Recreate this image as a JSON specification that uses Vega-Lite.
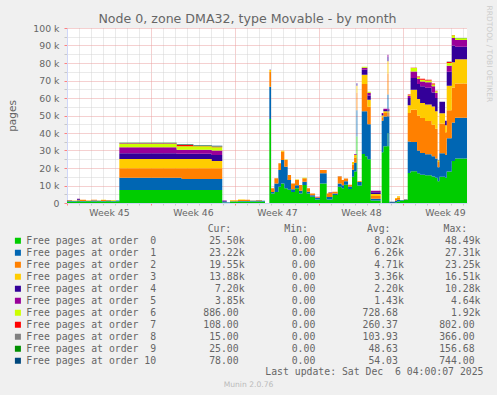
{
  "$schema": "https://vega.github.io/schema/vega-lite/v6.json",
  "autosize": {"type": "none"},
  "padding": {"left": 67, "top": 28, "right": 30, "bottom": 192},
  "width": 400,
  "height": 175,
  "background": "#f0f0f0",
  "config": {"view": {"fill": "white", "stroke": null}},
  "title": {"text": "Node 0, zone DMA32, type Movable - by month", "font": "DejaVu Sans", "fontSize": 12.6, "fontWeight": "normal", "color": "#666666", "anchor": "middle", "frame": "group", "dx": -19.5, "dy": 24.5, "offset": 4},
  "datasets": {
    "series": [
      {"t": 0.00, "o0": 800, "o1": 300, "o2": 400, "o3": 100, "o4": 100, "o5": 0, "o6": 0, "o7": 0, "o8": 0, "o9": 0, "o10": 0},
      {"t": 0.42, "o0": 900, "o1": 200, "o2": 200, "o3": 200, "o4": 0, "o5": 0, "o6": 0, "o7": 0, "o8": 0, "o9": 0, "o10": 0},
      {"t": 0.83, "o0": 1000, "o1": 500, "o2": 300, "o3": 0, "o4": 500, "o5": 200, "o6": 0, "o7": 0, "o8": 0, "o9": 0, "o10": 0},
      {"t": 1.08, "o0": 900, "o1": 300, "o2": 700, "o3": 0, "o4": 0, "o5": 0, "o6": 0, "o7": 0, "o8": 0, "o9": 0, "o10": 0},
      {"t": 1.58, "o0": 1000, "o1": 200, "o2": 300, "o3": 0, "o4": 0, "o5": 0, "o6": 0, "o7": 0, "o8": 0, "o9": 0, "o10": 0},
      {"t": 2.00, "o0": 900, "o1": 500, "o2": 500, "o3": 0, "o4": 0, "o5": 0, "o6": 0, "o7": 0, "o8": 0, "o9": 0, "o10": 0},
      {"t": 2.50, "o0": 1000, "o1": 300, "o2": 200, "o3": 0, "o4": 0, "o5": 0, "o6": 0, "o7": 0, "o8": 0, "o9": 0, "o10": 0},
      {"t": 2.83, "o0": 900, "o1": 200, "o2": 600, "o3": 200, "o4": 0, "o5": 0, "o6": 0, "o7": 0, "o8": 0, "o9": 0, "o10": 0},
      {"t": 3.25, "o0": 1000, "o1": 500, "o2": 200, "o3": 0, "o4": 0, "o5": 0, "o6": 0, "o7": 0, "o8": 0, "o9": 0, "o10": 0},
      {"t": 3.67, "o0": 900, "o1": 300, "o2": 200, "o3": 0, "o4": 0, "o5": 0, "o6": 300, "o7": 0, "o8": 0, "o9": 0, "o10": 0},
      {"t": 4.08, "o0": 1000, "o1": 400, "o2": 100, "o3": 0, "o4": 0, "o5": 0, "o6": 0, "o7": 0, "o8": 0, "o9": 0, "o10": 0},
      {"t": 4.36, "o0": 7400, "o1": 7100, "o2": 5300, "o3": 5300, "o4": 3300, "o5": 3400, "o6": 1900, "o7": 300, "o8": 300, "o9": 100, "o10": 100},
      {"t": 9.14, "o0": 7400, "o1": 7100, "o2": 5300, "o3": 5300, "o4": 3000, "o5": 2400, "o6": 1900, "o7": 800, "o8": 300, "o9": 100, "o10": 100},
      {"t": 9.56, "o0": 7400, "o1": 6300, "o2": 6100, "o3": 5300, "o4": 3000, "o5": 2400, "o6": 1900, "o7": 800, "o8": 300, "o9": 100, "o10": 100},
      {"t": 10.53, "o0": 7400, "o1": 6300, "o2": 6100, "o3": 5300, "o4": 3000, "o5": 2400, "o6": 1900, "o7": 200, "o8": 300, "o9": 100, "o10": 100},
      {"t": 12.06, "o0": 7400, "o1": 6300, "o2": 6100, "o3": 4200, "o4": 3400, "o5": 2600, "o6": 1900, "o7": 200, "o8": 300, "o9": 150, "o10": 100},
      {"t": 12.94, "o0": 300, "o1": 600, "o2": 0, "o3": 0, "o4": 300, "o5": 200, "o6": 0, "o7": 0, "o8": 0, "o9": 0, "o10": 0},
      {"t": 13.31, "o0": 200, "o1": 200, "o2": 0, "o3": 0, "o4": 0, "o5": 0, "o6": 0, "o7": 0, "o8": 0, "o9": 0, "o10": 0},
      {"t": 13.58, "o0": 800, "o1": 200, "o2": 500, "o3": 200, "o4": 0, "o5": 0, "o6": 0, "o7": 0, "o8": 0, "o9": 0, "o10": 0},
      {"t": 14.25, "o0": 900, "o1": 200, "o2": 600, "o3": 300, "o4": 0, "o5": 0, "o6": 0, "o7": 0, "o8": 0, "o9": 0, "o10": 0},
      {"t": 14.83, "o0": 800, "o1": 300, "o2": 800, "o3": 0, "o4": 0, "o5": 0, "o6": 0, "o7": 0, "o8": 0, "o9": 0, "o10": 0},
      {"t": 15.25, "o0": 900, "o1": 400, "o2": 200, "o3": 0, "o4": 0, "o5": 0, "o6": 0, "o7": 0, "o8": 0, "o9": 0, "o10": 0},
      {"t": 15.75, "o0": 900, "o1": 600, "o2": 200, "o3": 0, "o4": 0, "o5": 0, "o6": 0, "o7": 0, "o8": 0, "o9": 0, "o10": 0},
      {"t": 16.25, "o0": 800, "o1": 500, "o2": 0, "o3": 0, "o4": 0, "o5": 0, "o6": 0, "o7": 0, "o8": 0, "o9": 0, "o10": 0},
      {"t": 16.50, "o0": 0, "o1": 0, "o2": 0, "o3": 0, "o4": 0, "o5": 0, "o6": 0, "o7": 0, "o8": 0, "o9": 0, "o10": 0},
      {"t": 16.86, "o0": 48000, "o1": 18500, "o2": 8500, "o3": 1000, "o4": 200, "o5": 0, "o6": 0, "o7": 0, "o8": 0, "o9": 0, "o10": 0},
      {"t": 17.00, "o0": 5500, "o1": 800, "o2": 2100, "o3": 0, "o4": 0, "o5": 0, "o6": 0, "o7": 0, "o8": 0, "o9": 0, "o10": 0},
      {"t": 17.28, "o0": 6300, "o1": 4900, "o2": 2900, "o3": 0, "o4": 0, "o5": 0, "o6": 0, "o7": 0, "o8": 0, "o9": 0, "o10": 0},
      {"t": 17.61, "o0": 9300, "o1": 9600, "o2": 3800, "o3": 0, "o4": 0, "o5": 0, "o6": 0, "o7": 0, "o8": 0, "o9": 0, "o10": 0},
      {"t": 17.83, "o0": 11200, "o1": 13400, "o2": 4700, "o3": 500, "o4": 0, "o5": 0, "o6": 0, "o7": 0, "o8": 0, "o9": 0, "o10": 0},
      {"t": 18.11, "o0": 8400, "o1": 12300, "o2": 3900, "o3": 300, "o4": 0, "o5": 0, "o6": 0, "o7": 0, "o8": 0, "o9": 0, "o10": 0},
      {"t": 18.39, "o0": 7600, "o1": 5500, "o2": 2900, "o3": 0, "o4": 0, "o5": 0, "o6": 0, "o7": 0, "o8": 0, "o9": 0, "o10": 0},
      {"t": 18.67, "o0": 6300, "o1": 1500, "o2": 3400, "o3": 0, "o4": 0, "o5": 0, "o6": 0, "o7": 0, "o8": 0, "o9": 0, "o10": 0},
      {"t": 19.00, "o0": 8400, "o1": 1800, "o2": 2900, "o3": 300, "o4": 0, "o5": 0, "o6": 0, "o7": 0, "o8": 0, "o9": 0, "o10": 0},
      {"t": 19.33, "o0": 5500, "o1": 1500, "o2": 3300, "o3": 0, "o4": 0, "o5": 0, "o6": 0, "o7": 0, "o8": 0, "o9": 0, "o10": 0},
      {"t": 19.61, "o0": 10300, "o1": 1900, "o2": 1900, "o3": 0, "o4": 0, "o5": 0, "o6": 300, "o7": 0, "o8": 0, "o9": 0, "o10": 0},
      {"t": 19.98, "o0": 5500, "o1": 900, "o2": 2000, "o3": 0, "o4": 0, "o5": 0, "o6": 0, "o7": 0, "o8": 0, "o9": 0, "o10": 0},
      {"t": 20.25, "o0": 3600, "o1": 900, "o2": 1000, "o3": 0, "o4": 0, "o5": 0, "o6": 0, "o7": 0, "o8": 0, "o9": 0, "o10": 0},
      {"t": 20.67, "o0": 2000, "o1": 800, "o2": 500, "o3": 0, "o4": 0, "o5": 300, "o6": 0, "o7": 0, "o8": 0, "o9": 0, "o10": 0},
      {"t": 21.08, "o0": 11200, "o1": 5800, "o2": 1900, "o3": 0, "o4": 0, "o5": 0, "o6": 0, "o7": 0, "o8": 0, "o9": 0, "o10": 0},
      {"t": 21.64, "o0": 2000, "o1": 1500, "o2": 2000, "o3": 0, "o4": 0, "o5": 0, "o6": 0, "o7": 0, "o8": 0, "o9": 0, "o10": 0},
      {"t": 21.78, "o0": 2000, "o1": 1500, "o2": 2400, "o3": 0, "o4": 0, "o5": 300, "o6": 0, "o7": 0, "o8": 0, "o9": 0, "o10": 0},
      {"t": 22.11, "o0": 4600, "o1": 900, "o2": 1000, "o3": 0, "o4": 0, "o5": 0, "o6": 0, "o7": 0, "o8": 0, "o9": 0, "o10": 0},
      {"t": 22.56, "o0": 9300, "o1": 1800, "o2": 3900, "o3": 300, "o4": 0, "o5": 200, "o6": 0, "o7": 0, "o8": 0, "o9": 0, "o10": 0},
      {"t": 22.89, "o0": 8400, "o1": 1800, "o2": 2900, "o3": 0, "o4": 0, "o5": 0, "o6": 0, "o7": 0, "o8": 0, "o9": 0, "o10": 0},
      {"t": 23.08, "o0": 10500, "o1": 2000, "o2": 1500, "o3": 0, "o4": 0, "o5": 0, "o6": 0, "o7": 0, "o8": 0, "o9": 0, "o10": 0},
      {"t": 23.42, "o0": 8000, "o1": 1500, "o2": 1000, "o3": 0, "o4": 0, "o5": 0, "o6": 0, "o7": 0, "o8": 0, "o9": 0, "o10": 0},
      {"t": 23.75, "o0": 15000, "o1": 4000, "o2": 3000, "o3": 1500, "o4": 0, "o5": 0, "o6": 0, "o7": 0, "o8": 0, "o9": 0, "o10": 0},
      {"t": 23.92, "o0": 18000, "o1": 5000, "o2": 3000, "o3": 1500, "o4": 0, "o5": 300, "o6": 0, "o7": 0, "o8": 0, "o9": 0, "o10": 0},
      {"t": 24.13, "o0": 38000, "o1": 15000, "o2": 10000, "o3": 4000, "o4": 1500, "o5": 0, "o6": 0, "o7": 0, "o8": 0, "o9": 0, "o10": 0},
      {"t": 24.19, "o0": 10000, "o1": 2000, "o2": 500, "o3": 0, "o4": 0, "o5": 0, "o6": 0, "o7": 0, "o8": 0, "o9": 0, "o10": 0},
      {"t": 24.56, "o0": 28000, "o1": 24400, "o2": 15600, "o3": 5300, "o4": 2800, "o5": 1200, "o6": 600, "o7": 0, "o8": 0, "o9": 0, "o10": 0},
      {"t": 24.83, "o0": 26700, "o1": 25700, "o2": 15600, "o3": 5300, "o4": 2800, "o5": 1200, "o6": 600, "o7": 0, "o8": 0, "o9": 0, "o10": 0},
      {"t": 25.03, "o0": 25000, "o1": 20000, "o2": 10000, "o3": 4000, "o4": 2500, "o5": 1500, "o6": 600, "o7": 0, "o8": 0, "o9": 0, "o10": 0},
      {"t": 25.31, "o0": 1500, "o1": 1000, "o2": 1500, "o3": 1200, "o4": 1000, "o5": 800, "o6": 0, "o7": 0, "o8": 0, "o9": 0, "o10": 0},
      {"t": 26.14, "o0": 0, "o1": 0, "o2": 0, "o3": 0, "o4": 0, "o5": 0, "o6": 0, "o7": 0, "o8": 0, "o9": 0, "o10": 0},
      {"t": 26.22, "o0": 29000, "o1": 18000, "o2": 2000, "o3": 1000, "o4": 800, "o5": 600, "o6": 0, "o7": 0, "o8": 0, "o9": 0, "o10": 0},
      {"t": 26.36, "o0": 32400, "o1": 17000, "o2": 2000, "o3": 1000, "o4": 800, "o5": 700, "o6": 0, "o7": 0, "o8": 0, "o9": 0, "o10": 0},
      {"t": 26.71, "o0": 40000, "o1": 22000, "o2": 12000, "o3": 7000, "o4": 2500, "o5": 1200, "o6": 0, "o7": 0, "o8": 0, "o9": 0, "o10": 0},
      {"t": 26.78, "o0": 32400, "o1": 17000, "o2": 2000, "o3": 1000, "o4": 800, "o5": 700, "o6": 0, "o7": 0, "o8": 0, "o9": 0, "o10": 0},
      {"t": 26.86, "o0": 0, "o1": 200, "o2": 0, "o3": 0, "o4": 0, "o5": 0, "o6": 0, "o7": 0, "o8": 0, "o9": 0, "o10": 500},
      {"t": 27.33, "o0": 500, "o1": 800, "o2": 1000, "o3": 500, "o4": 0, "o5": 0, "o6": 0, "o7": 0, "o8": 0, "o9": 0, "o10": 0},
      {"t": 27.50, "o0": 800, "o1": 1000, "o2": 1300, "o3": 700, "o4": 0, "o5": 0, "o6": 0, "o7": 0, "o8": 0, "o9": 0, "o10": 0},
      {"t": 27.75, "o0": 1500, "o1": 200, "o2": 0, "o3": 0, "o4": 0, "o5": 0, "o6": 0, "o7": 0, "o8": 0, "o9": 0, "o10": 0},
      {"t": 28.08, "o0": 1700, "o1": 300, "o2": 200, "o3": 0, "o4": 0, "o5": 0, "o6": 0, "o7": 0, "o8": 0, "o9": 0, "o10": 0},
      {"t": 28.39, "o0": 17100, "o1": 18100, "o2": 16200, "o3": 4400, "o4": 4200, "o5": 1200, "o6": 400, "o7": 400, "o8": 0, "o9": 0, "o10": 0},
      {"t": 28.63, "o0": 18100, "o1": 16700, "o2": 18500, "o3": 11400, "o4": 6700, "o5": 3800, "o6": 1900, "o7": 200, "o8": 0, "o9": 0, "o10": 0},
      {"t": 29.17, "o0": 17000, "o1": 13000, "o2": 20000, "o3": 9500, "o4": 8500, "o5": 2800, "o6": 1000, "o7": 500, "o8": 0, "o9": 0, "o10": 0},
      {"t": 29.42, "o0": 16200, "o1": 12400, "o2": 20000, "o3": 8500, "o4": 9600, "o5": 2800, "o6": 1000, "o7": 500, "o8": 0, "o9": 0, "o10": 0},
      {"t": 29.83, "o0": 15800, "o1": 12000, "o2": 19000, "o3": 9500, "o4": 9500, "o5": 3200, "o6": 1000, "o7": 500, "o8": 0, "o9": 0, "o10": 0},
      {"t": 30.39, "o0": 15200, "o1": 11500, "o2": 18000, "o3": 10500, "o4": 8000, "o5": 3500, "o6": 1000, "o7": 600, "o8": 0, "o9": 0, "o10": 0},
      {"t": 30.67, "o0": 14500, "o1": 11000, "o2": 17000, "o3": 10000, "o4": 7500, "o5": 3000, "o6": 800, "o7": 300, "o8": 0, "o9": 0, "o10": 0},
      {"t": 30.88, "o0": 12400, "o1": 8000, "o2": 3000, "o3": 1000, "o4": 200, "o5": 0, "o6": 0, "o7": 0, "o8": 0, "o9": 0, "o10": 0},
      {"t": 31.03, "o0": 15000, "o1": 13400, "o2": 17100, "o3": 5800, "o4": 6600, "o5": 0, "o6": 0, "o7": 0, "o8": 0, "o9": 0, "o10": 0},
      {"t": 31.50, "o0": 14500, "o1": 13000, "o2": 13000, "o3": 4000, "o4": 2500, "o5": 0, "o6": 0, "o7": 0, "o8": 0, "o9": 0, "o10": 0},
      {"t": 31.64, "o0": 18000, "o1": 19000, "o2": 16000, "o3": 14000, "o4": 8000, "o5": 3500, "o6": 1500, "o7": 600, "o8": 300, "o9": 0, "o10": 0},
      {"t": 32.06, "o0": 24000, "o1": 22000, "o2": 20000, "o3": 14500, "o4": 9500, "o5": 4300, "o6": 1500, "o7": 200, "o8": 0, "o9": 0, "o10": 0},
      {"t": 32.33, "o0": 25500, "o1": 23220, "o2": 19550, "o3": 13880, "o4": 7200, "o5": 3850, "o6": 886, "o7": 108, "o8": 15, "o9": 25, "o10": 78},
      {"t": 33.33, "o0": 25500, "o1": 23220, "o2": 19550, "o3": 13880, "o4": 7200, "o5": 3850, "o6": 886, "o7": 108, "o8": 15, "o9": 25, "o10": 78}
    ],
    "stats": [
      {"key": "o0", "s": 0, "name": "Free pages at order  0", "cur": "25.50k", "min": "0.00", "avg": "8.02k", "max": "48.49k"},
      {"key": "o1", "s": 1, "name": "Free pages at order  1", "cur": "23.22k", "min": "0.00", "avg": "6.26k", "max": "27.31k"},
      {"key": "o2", "s": 2, "name": "Free pages at order  2", "cur": "19.55k", "min": "0.00", "avg": "4.71k", "max": "23.25k"},
      {"key": "o3", "s": 3, "name": "Free pages at order  3", "cur": "13.88k", "min": "0.00", "avg": "3.36k", "max": "16.51k"},
      {"key": "o4", "s": 4, "name": "Free pages at order  4", "cur": "7.20k", "min": "0.00", "avg": "2.20k", "max": "10.28k"},
      {"key": "o5", "s": 5, "name": "Free pages at order  5", "cur": "3.85k", "min": "0.00", "avg": "1.43k", "max": "4.64k"},
      {"key": "o6", "s": 6, "name": "Free pages at order  6", "cur": "886.00", "min": "0.00", "avg": "728.68", "max": "1.92k"},
      {"key": "o7", "s": 7, "name": "Free pages at order  7", "cur": "108.00", "min": "0.00", "avg": "260.37", "max": "802.00"},
      {"key": "o8", "s": 8, "name": "Free pages at order  8", "cur": "15.00", "min": "0.00", "avg": "103.93", "max": "366.00"},
      {"key": "o9", "s": 9, "name": "Free pages at order  9", "cur": "25.00", "min": "0.00", "avg": "48.63", "max": "156.68"},
      {"key": "o10", "s": 10, "name": "Free pages at order 10", "cur": "78.00", "min": "0.00", "avg": "54.03", "max": "744.00"}
    ]
  },
  "data": {"name": "series"},
  "layer": [
    {
      "transform": [
        {"fold": ["o0", "o1", "o2", "o3", "o4", "o5", "o6", "o7", "o8", "o9", "o10"], "as": ["key", "value"]},
        {"lookup": "key", "from": {"data": {"name": "stats"}, "key": "key", "fields": ["s", "name", "cur", "min", "avg", "max"]}},
        {"calculate": "replace(datum.name, regexp(' ', 'g'), '\u00a0') + pad(datum.cur + (indexof(datum.cur, 'k') >= 0 ? '' : '\u00a0'), 15, '\u00a0', 'left') + pad(datum.min + (indexof(datum.min, 'k') >= 0 ? '' : '\u00a0'), 13, '\u00a0', 'left') + pad(datum.avg + (indexof(datum.avg, 'k') >= 0 ? '' : '\u00a0'), 14, '\u00a0', 'left') + pad(datum.max + (indexof(datum.max, 'k') >= 0 ? '' : '\u00a0'), 13, '\u00a0', 'left')", "as": "line"}
      ],
      "mark": {"type": "area", "interpolate": "step-after", "opacity": 1, "clip": true},
      "encoding": {
        "x": {
          "field": "t", "type": "quantitative",
          "scale": {"domain": [0, 33.33], "nice": false, "zero": false},
          "axis": {
            "values": [0, 1, 2, 3, 4, 5, 6, 7, 8, 9, 10, 11, 12, 13, 14, 15, 16, 17, 18, 19, 20, 21, 22, 23, 24, 25, 26, 27, 28, 29, 30, 31, 32, 33, 3.5, 10.5, 17.5, 24.5, 31.5],
            "labelExpr": "datum.value % 7 == 3.5 ? 'Week ' + (45 + floor(datum.value / 7)) : ''",
            "labelOverlap": false, "labelFlush": false, "labelBound": false,
            "labelFont": "DejaVu Sans", "labelFontSize": 9.33, "labelColor": "#666666", "labelPadding": 3,
            "tickSize": 2,
            "tickColor": {"condition": {"test": "datum.value % 7 == 0", "value": "#ff8080"}, "value": "#c8c8c8"},
            "tickOpacity": {"condition": {"test": "datum.value % 1 != 0", "value": 0}, "value": 1},
            "grid": true,
            "gridColor": {"condition": {"test": "datum.value % 7 == 0", "value": "#eba0a0"}, "value": "#d4d4d4"},
            "gridOpacity": {"condition": {"test": "datum.value % 1 != 0", "value": 0}, "value": 1},
            "gridDash": [1, 1],
            "domainColor": "#CFD6F8",
            "title": "Last update: Sat Dec\u00a0\u00a06 04:00:07 2025",
            "titleFont": "DejaVu Sans Mono", "titleFontSize": 9.8, "titleFontWeight": "normal", "titleColor": "#666666",
            "titleX": 416, "titleY": 168.3, "titleAlign": "right", "titleBaseline": "middle", "titleAngle": 0
          }
        },
        "y": {
          "field": "value", "type": "quantitative", "stack": "zero",
          "scale": {"domain": [0, 100000], "nice": false},
          "axis": {
            "values": [0, 5000, 10000, 15000, 20000, 25000, 30000, 35000, 40000, 45000, 50000, 55000, 60000, 65000, 70000, 75000, 80000, 85000, 90000, 95000, 100000],
            "labelExpr": "datum.value % 10000 == 0 ? (datum.value == 0 ? '0' : (datum.value / 1000) + ' k') : ''",
            "labelOverlap": false, "labelFlush": false,
            "labelFont": "DejaVu Sans", "labelFontSize": 9.33, "labelColor": "#666666", "labelPadding": 5,
            "tickSize": 3,
            "tickColor": {"condition": {"test": "datum.value % 10000 == 0", "value": "#ff8080"}, "value": "#c8c8c8"},
            "grid": true,
            "gridColor": {"condition": {"test": "datum.value % 10000 == 0", "value": "#eba0a0"}, "value": "#d4d4d4"},
            "gridDash": [1, 1],
            "domainColor": "#CFD6F8",
            "title": "pages", "titleFont": "DejaVu Sans", "titleFontSize": 10.5, "titleFontWeight": "normal", "titleColor": "#666666",
            "titleX": -55, "titleY": 87.5, "titleAngle": 270, "titleAlign": "center", "titleBaseline": "middle"
          }
        },
        "color": {
          "field": "line", "type": "nominal",
          "sort": {"field": "s", "op": "min"},
          "scale": {"range": ["#00CC00", "#0066B3", "#FF8000", "#FFCC00", "#330099", "#990099", "#CCFF00", "#FF0000", "#808080", "#008F00", "#00487D"]},
          "legend": {
            "orient": "none", "legendX": -54, "legendY": 196.2, "padding": 0,
            "title": "\u200b\u00a0\u00a0\u00a0\u00a0\u00a0\u00a0\u00a0\u00a0\u00a0\u00a0\u00a0\u00a0\u00a0\u00a0\u00a0\u00a0\u00a0\u00a0\u00a0\u00a0\u00a0\u00a0\u00a0\u00a0\u00a0\u00a0\u00a0\u00a0\u00a0\u00a0\u00a0\u00a0\u00a0Cur:\u00a0\u00a0\u00a0\u00a0\u00a0\u00a0\u00a0\u00a0\u00a0Min:\u00a0\u00a0\u00a0\u00a0\u00a0\u00a0\u00a0\u00a0\u00a0\u00a0Avg:\u00a0\u00a0\u00a0\u00a0\u00a0\u00a0\u00a0\u00a0\u00a0Max:",
            "titleFont": "DejaVu Sans Mono", "titleFontSize": 9.8, "titleFontWeight": "normal", "titleColor": "#666666", "titlePadding": 0.8, "titleLimit": 0,
            "labelFont": "DejaVu Sans Mono", "labelFontSize": 9.8, "labelColor": "#666666", "labelLimit": 0, "labelOffset": 3.5,
            "symbolType": "square", "symbolSize": 36, "symbolStrokeWidth": 0, "symbolOpacity": 1,
            "clipHeight": 12, "rowPadding": 0
          }
        },
        "order": {"field": "s", "type": "quantitative", "sort": "ascending"}
      }
    },
    {
      "mark": {"type": "point", "opacity": 0},
      "encoding": {
        "x": {"field": "t", "type": "quantitative", "axis": {"orient": "top", "labels": false, "ticks": false, "domain": false, "grid": false, "title": "Munin 2.0.76", "titleX": 181, "titleY": 356, "titleFont": "DejaVu Sans", "titleFontSize": 7.6, "titleFontWeight": "normal", "titleColor": "#bbbbbb", "titleAlign": "center", "titleBaseline": "middle", "titleAngle": 0}},
        "y": {"field": "o0", "type": "quantitative", "axis": {"orient": "right", "labels": false, "ticks": false, "domain": false, "grid": false, "title": "RRDTOOL / TOBI OETIKER", "titleX": 21, "titleY": -23, "titleAngle": 90, "titleAlign": "left", "titleBaseline": "middle", "titleFont": "DejaVu Sans", "titleFontSize": 7.5, "titleFontWeight": "normal", "titleColor": "#cccccc"}}
      }
    }
  ],
  "resolve": {"scale": {"x": "independent", "y": "independent"}}
}
